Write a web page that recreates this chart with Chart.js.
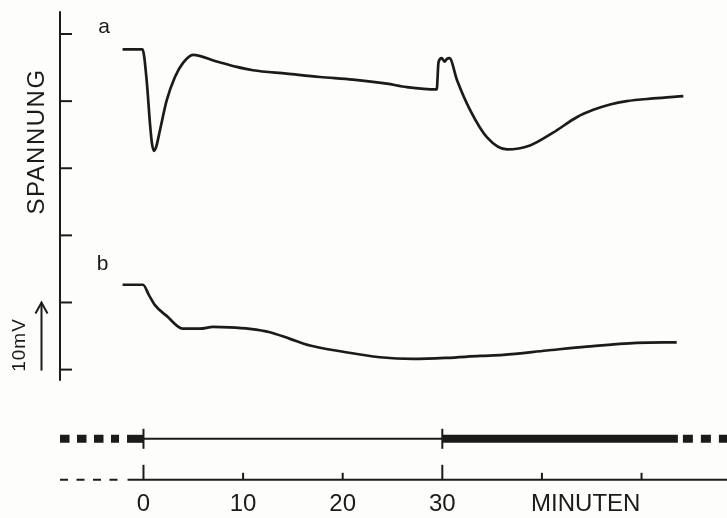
<!DOCTYPE html>
<html>
<head>
<meta charset="utf-8">
<script src="https://cdn.jsdelivr.net/npm/chart.js@4.4.1/dist/chart.umd.min.js"></script>
<style>
  html, body { margin: 0; padding: 0; background: #fdfdfb; }
  #wrap { width: 727px; height: 518px; }
</style>
</head>
<body>
<div id="wrap"><canvas id="c" width="727" height="518"></canvas></div>
<script>
// ---- data (time in minutes, voltage in mV; one tick = 10 mV) ----
const minutesA = [-2.1, -0.1, 0.32, 0.65, 0.85, 1.05, 1.26, 1.66, 2.33, 3.16, 3.97, 4.97, 7.35, 9.36,
  10.99, 14.38, 17.72, 21.03, 24.42, 26.43, 29.44, 29.62, 29.94, 30.22, 30.47, 30.72, 31.48, 32.78,
  34.49, 36.5, 38.8, 41.12, 43.5, 45.16, 46.84, 48.51, 51.18, 54.2];
const voltageA = [47.7, 47.7, 43.1, 36.7, 33.7, 32.6, 33.1, 35.7, 40.1, 43.6, 45.7, 46.9, 45.9, 45.1,
  44.6, 44.1, 43.6, 43.2, 42.6, 42.1, 41.75, 45.8, 46.4, 45.9, 46.3, 46.4, 43.1, 38.7,
  34.6, 32.8, 33.4, 35.3, 37.6, 38.7, 39.5, 40.0, 40.4, 40.75];

const minutesB = [-2.1, -0.05, 0.55, 1.15, 2.33, 3.94, 5.67, 6.98, 8.68, 10.69, 12.7, 14.71, 16.72, 19.73,
  23.74, 27.09, 30.44, 33.79, 36.12, 40.48, 44.5, 49.52, 53.53];
const voltageB = [12.64, 12.64, 11.1, 9.6, 8.0, 6.1, 6.1, 6.35, 6.3, 6.07, 5.57, 4.58, 3.58, 2.73,
  1.84, 1.6, 1.75, 2.04, 2.19, 2.84, 3.43, 3.99, 4.07];

const yTicks = [0, 10, 20, 30, 40, 50];
const xTicks = [0, 10, 20, 30, 40, 50];
const xTickLabels = ['0', '10', '20', '30'];
const xUnitLabel = 'MINUTEN';
const xUnitAt = 44.4;
const traceLabels = ['a', 'b'];
const yTitle = 'SPANNUNG';
const scaleBarLabel = '10mV';
const scaleBar = [0, 10];
// timeline: thin phase and thick phase (minutes)
const thinPhase = [0, 30];
const thickPhase = [30, 53.65];
const preThick = [-1.65, 0];

const INK = '#1b1b1b';
const FONT = '"Liberation Sans", Arial, sans-serif';

const decor = {
  id: 'decor',
  beforeDraw(c) {
    const ctx = c.ctx;
    ctx.save();
    ctx.fillStyle = '#fdfdfb';
    ctx.fillRect(0, 0, c.width, c.height);
    ctx.restore();
  },
  afterDatasetsDraw(c) {
    const { ctx, chartArea: a, scales: { x, y } } = c;
    ctx.save();
    ctx.strokeStyle = INK;
    ctx.fillStyle = INK;
    ctx.lineCap = 'butt';

    // y axis
    const ax = a.left;
    ctx.lineWidth = 2;
    ctx.beginPath();
    ctx.moveTo(ax, y.getPixelForValue(53.4));
    ctx.lineTo(ax, y.getPixelForValue(-1.65));
    ctx.stroke();
    yTicks.forEach(v => {
      const py = y.getPixelForValue(v);
      ctx.beginPath();
      ctx.moveTo(ax - 1, py);
      ctx.lineTo(ax + 12, py);
      ctx.stroke();
    });

    // x axis line
    const by = a.bottom - 1;
    const xs = x.getPixelForValue(-1.6);
    ctx.setLineDash([8, 8.5]);
    ctx.beginPath();
    ctx.moveTo(a.left, by);
    ctx.lineTo(xs - 9, by);
    ctx.stroke();
    ctx.setLineDash([]);
    ctx.beginPath();
    ctx.moveTo(xs, by);
    ctx.lineTo(a.right, by);
    ctx.stroke();
    xTicks.forEach(v => {
      const px = x.getPixelForValue(v);
      const len = (v === thinPhase[0] || v === thinPhase[1]) ? 15 : 7;
      ctx.beginPath();
      ctx.moveTo(px, by);
      ctx.lineTo(px, by - len);
      ctx.stroke();
    });

    // timeline bar
    const ty = a.bottom - 42;
    ctx.lineWidth = 8;
    ctx.setLineDash([9.5, 7.5]);
    ctx.beginPath();
    ctx.moveTo(a.left, ty);
    ctx.lineTo(x.getPixelForValue(preThick[0]) - 8, ty);
    ctx.stroke();
    ctx.setLineDash([]);
    ctx.beginPath();
    ctx.moveTo(x.getPixelForValue(preThick[0]), ty);
    ctx.lineTo(x.getPixelForValue(preThick[1]), ty);
    ctx.stroke();
    ctx.beginPath();
    ctx.moveTo(x.getPixelForValue(thickPhase[0]), ty);
    ctx.lineTo(x.getPixelForValue(thickPhase[1]), ty);
    ctx.stroke();
    ctx.setLineDash([10, 8]);
    ctx.beginPath();
    ctx.moveTo(x.getPixelForValue(thickPhase[1]) + 5, ty);
    ctx.lineTo(a.right + 2, ty);
    ctx.stroke();
    ctx.setLineDash([]);
    ctx.lineWidth = 2;
    ctx.beginPath();
    ctx.moveTo(x.getPixelForValue(thinPhase[0]), ty);
    ctx.lineTo(x.getPixelForValue(thinPhase[1]), ty);
    ctx.stroke();
    thinPhase.forEach(v => {
      const px = x.getPixelForValue(v);
      ctx.beginPath();
      ctx.moveTo(px, ty - 10);
      ctx.lineTo(px, ty + 10);
      ctx.stroke();
    });

    // trace labels
    ctx.font = '21px ' + FONT;
    ctx.textAlign = 'center';
    ctx.textBaseline = 'alphabetic';
    ctx.fillText(traceLabels[0], 104, 33);
    ctx.fillText(traceLabels[1], 102.5, 270);

    // y title
    ctx.save();
    ctx.translate(37, 141.5);
    ctx.rotate(-Math.PI / 2);
    ctx.font = '24px ' + FONT;
    ctx.letterSpacing = '1.5px';
    ctx.textBaseline = 'middle';
    ctx.fillText(yTitle, 0, 0);
    ctx.restore();

    // scale bar label
    ctx.save();
    ctx.translate(20, 345);
    ctx.rotate(-Math.PI / 2);
    ctx.font = '19px ' + FONT;
    ctx.letterSpacing = '1px';
    ctx.textBaseline = 'middle';
    ctx.fillText(scaleBarLabel, 0, 0);
    ctx.restore();

    // scale bar arrow
    const arX = 41.5;
    const y0 = y.getPixelForValue(scaleBar[0]) + 1;
    const y1 = y.getPixelForValue(scaleBar[1]);
    ctx.lineWidth = 2;
    ctx.beginPath();
    ctx.moveTo(arX, y0);
    ctx.lineTo(arX, y1);
    ctx.stroke();
    ctx.beginPath();
    ctx.moveTo(arX - 6, y1 + 11);
    ctx.lineTo(arX, y1);
    ctx.lineTo(arX + 6, y1 + 11);
    ctx.stroke();
    ctx.restore();
  }
};

new Chart(document.getElementById('c'), {
  type: 'line',
  data: {
    datasets: [
      { label: 'a', data: minutesA.map((m, i) => ({ x: m, y: voltageA[i] })) },
      { label: 'b', data: minutesB.map((m, i) => ({ x: m, y: voltageB[i] })) }
    ]
  },
  options: {
    responsive: false,
    animation: false,
    devicePixelRatio: 1,
    layout: { padding: { left: 60, right: 0, top: 11, bottom: -10 } },
    elements: {
      point: { radius: 0 },
      line: { borderColor: INK, borderWidth: 2.7, cubicInterpolationMode: 'monotone', fill: false }
    },
    plugins: { legend: { display: false }, tooltip: { enabled: false } },
    scales: {
      x: {
        type: 'linear',
        min: -8.38,
        max: 58.58,
        grid: { display: false, drawTicks: false },
        border: { display: false },
        afterBuildTicks: axis => {
          axis.ticks = xTicks.slice(0, xTickLabels.length).map(v => ({ value: v }))
            .concat([{ value: xUnitAt }]);
        },
        ticks: {
          autoSkip: false,
          maxRotation: 0,
          padding: 9.2,
          color: INK,
          font: { family: FONT, size: 24 },
          callback: v => {
            const i = xTicks.indexOf(v);
            if (i >= 0 && i < xTickLabels.length) return xTickLabels[i];
            return xUnitLabel;
          }
        }
      },
      y: {
        type: 'linear',
        display: false,
        min: -16.57,
        max: 53.43
      }
    }
  },
  plugins: [decor]
});
</script>
</body>
</html>
